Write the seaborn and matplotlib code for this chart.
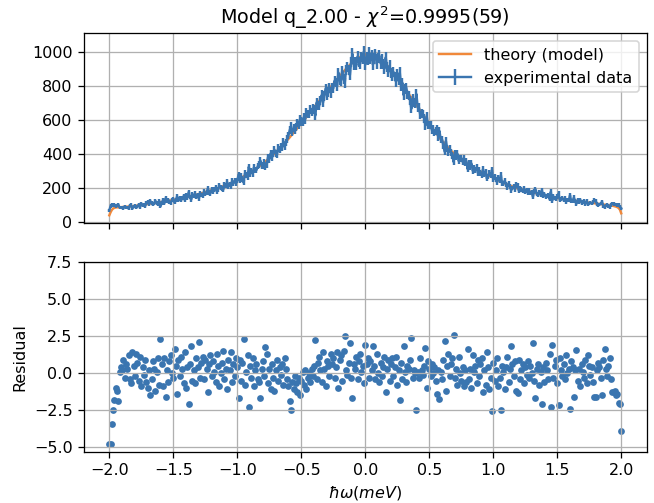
import numpy as np
import seaborn as sns
import matplotlib.pyplot as plt

# energy transfer grid (meV)
energy = [
    -2.00, -1.99, -1.98, -1.97, -1.96, -1.95, -1.94, -1.93, -1.92, -1.91, -1.90, -1.89, -1.88, -1.87, -1.86, -1.85, -1.84, -1.83, -1.82, -1.81,
    -1.80, -1.79, -1.78, -1.77, -1.76, -1.75, -1.74, -1.73, -1.72, -1.71, -1.70, -1.69, -1.68, -1.67, -1.66, -1.65, -1.64, -1.63, -1.62, -1.61,
    -1.60, -1.59, -1.58, -1.57, -1.56, -1.55, -1.54, -1.53, -1.52, -1.51, -1.50, -1.49, -1.48, -1.47, -1.46, -1.45, -1.44, -1.43, -1.42, -1.41,
    -1.40, -1.39, -1.38, -1.37, -1.36, -1.35, -1.34, -1.33, -1.32, -1.31, -1.30, -1.29, -1.28, -1.27, -1.26, -1.25, -1.24, -1.23, -1.22, -1.21,
    -1.20, -1.19, -1.18, -1.17, -1.16, -1.15, -1.14, -1.13, -1.12, -1.11, -1.10, -1.09, -1.08, -1.07, -1.06, -1.05, -1.04, -1.03, -1.02, -1.01,
    -1.00, -0.99, -0.98, -0.97, -0.96, -0.95, -0.94, -0.93, -0.92, -0.91, -0.90, -0.89, -0.88, -0.87, -0.86, -0.85, -0.84, -0.83, -0.82, -0.81,
    -0.80, -0.79, -0.78, -0.77, -0.76, -0.75, -0.74, -0.73, -0.72, -0.71, -0.70, -0.69, -0.68, -0.67, -0.66, -0.65, -0.64, -0.63, -0.62, -0.61,
    -0.60, -0.59, -0.58, -0.57, -0.56, -0.55, -0.54, -0.53, -0.52, -0.51, -0.50, -0.49, -0.48, -0.47, -0.46, -0.45, -0.44, -0.43, -0.42, -0.41,
    -0.40, -0.39, -0.38, -0.37, -0.36, -0.35, -0.34, -0.33, -0.32, -0.31, -0.30, -0.29, -0.28, -0.27, -0.26, -0.25, -0.24, -0.23, -0.22, -0.21,
    -0.20, -0.19, -0.18, -0.17, -0.16, -0.15, -0.14, -0.13, -0.12, -0.11, -0.10, -0.09, -0.08, -0.07, -0.06, -0.05, -0.04, -0.03, -0.02, -0.01,
    0.00, 0.01, 0.02, 0.03, 0.04, 0.05, 0.06, 0.07, 0.08, 0.09, 0.10, 0.11, 0.12, 0.13, 0.14, 0.15, 0.16, 0.17, 0.18, 0.19,
    0.20, 0.21, 0.22, 0.23, 0.24, 0.25, 0.26, 0.27, 0.28, 0.29, 0.30, 0.31, 0.32, 0.33, 0.34, 0.35, 0.36, 0.37, 0.38, 0.39,
    0.40, 0.41, 0.42, 0.43, 0.44, 0.45, 0.46, 0.47, 0.48, 0.49, 0.50, 0.51, 0.52, 0.53, 0.54, 0.55, 0.56, 0.57, 0.58, 0.59,
    0.60, 0.61, 0.62, 0.63, 0.64, 0.65, 0.66, 0.67, 0.68, 0.69, 0.70, 0.71, 0.72, 0.73, 0.74, 0.75, 0.76, 0.77, 0.78, 0.79,
    0.80, 0.81, 0.82, 0.83, 0.84, 0.85, 0.86, 0.87, 0.88, 0.89, 0.90, 0.91, 0.92, 0.93, 0.94, 0.95, 0.96, 0.97, 0.98, 0.99,
    1.00, 1.01, 1.02, 1.03, 1.04, 1.05, 1.06, 1.07, 1.08, 1.09, 1.10, 1.11, 1.12, 1.13, 1.14, 1.15, 1.16, 1.17, 1.18, 1.19,
    1.20, 1.21, 1.22, 1.23, 1.24, 1.25, 1.26, 1.27, 1.28, 1.29, 1.30, 1.31, 1.32, 1.33, 1.34, 1.35, 1.36, 1.37, 1.38, 1.39,
    1.40, 1.41, 1.42, 1.43, 1.44, 1.45, 1.46, 1.47, 1.48, 1.49, 1.50, 1.51, 1.52, 1.53, 1.54, 1.55, 1.56, 1.57, 1.58, 1.59,
    1.60, 1.61, 1.62, 1.63, 1.64, 1.65, 1.66, 1.67, 1.68, 1.69, 1.70, 1.71, 1.72, 1.73, 1.74, 1.75, 1.76, 1.77, 1.78, 1.79,
    1.80, 1.81, 1.82, 1.83, 1.84, 1.85, 1.86, 1.87, 1.88, 1.89, 1.90, 1.91, 1.92, 1.93, 1.94, 1.95, 1.96, 1.97, 1.98, 1.99,
    2.00,
]

# fitted model curve (counts)
theory = [
    40, 58, 72, 80, 84, 86, 87, 87, 88, 88, 89,
    90, 90, 91, 91, 92, 93, 93, 94, 95, 96,
    97, 98, 99, 100, 101, 102, 103, 104, 105, 107,
    108, 109, 110, 111, 112, 113, 114, 115, 116, 118,
    119, 120, 122, 123, 124, 126, 127, 128, 130, 132,
    133, 135, 136, 138, 139, 141, 143, 144, 146, 148,
    150, 151, 153, 155, 157, 158, 160, 162, 164, 166,
    168, 170, 172, 174, 177, 179, 181, 183, 186, 188,
    190, 193, 195, 198, 200, 203, 206, 209, 212, 215,
    218, 221, 224, 227, 230, 234, 237, 241, 245, 250,
    254, 258, 262, 266, 270, 274, 278, 283, 287, 292,
    297, 302, 307, 312, 317, 322, 328, 333, 339, 345,
    351, 357, 363, 369, 375, 382, 389, 396, 403, 410,
    418, 426, 434, 442, 450, 458, 466, 474, 482, 490,
    499, 508, 517, 526, 535, 544, 553, 562, 571, 580,
    590, 599, 609, 618, 628, 637, 647, 656, 666, 675,
    685, 694, 704, 713, 723, 732, 742, 751, 761, 770,
    779, 788, 797, 806, 815, 824, 833, 842, 851, 860,
    868, 877, 886, 895, 903, 911, 919, 926, 933, 940,
    946, 952, 957, 962, 967, 972, 976, 980, 983, 986,
    988, 989, 989, 988, 986, 983, 980, 976, 972, 967,
    962, 956, 950, 944, 937, 930, 922, 914, 906, 897,
    888, 879, 869, 859, 849, 839, 829, 819, 809, 798,
    787, 776, 765, 754, 743, 732, 721, 710, 699, 688,
    677, 666, 655, 644, 633, 622, 611, 600, 589, 578,
    567, 557, 547, 537, 527, 517, 507, 497, 488, 479,
    470, 461, 453, 445, 437, 429, 421, 414, 407, 400,
    393, 387, 381, 375, 369, 363, 357, 352, 347, 342,
    337, 332, 327, 323, 318, 314, 310, 306, 302, 298,
    294, 290, 286, 283, 279, 276, 272, 269, 266, 263,
    258, 254, 250, 246, 242, 238, 234, 231, 228, 225,
    222, 219, 216, 213, 210, 207, 204, 202, 199, 197,
    195, 193, 191, 189, 187, 185, 183, 181, 179, 177,
    175, 173, 171, 169, 167, 165, 164, 162, 160, 158,
    157, 155, 154, 152, 151, 149, 148, 146, 145, 143,
    142, 141, 139, 138, 137, 136, 134, 133, 132, 131,
    130, 128, 127, 126, 125, 124, 123, 122, 121, 120,
    119, 118, 117, 116, 115, 114, 113, 112, 111, 110,
    109, 108, 107, 106, 105, 104, 103, 102, 101, 100,
    99, 98, 97, 95, 93, 91, 88, 83, 73, 52,
]

# normalised residuals (model - data) / error
residual = [
    -4.8, -4.75, -3.4, -2.5, -1.8, -1.0, -1.2, -1.9, 0.1, 0.4, 0.2, 0.9, -0.3, 0.6, 0.3, 1.2, -0.4, -0.7, 1.45, 0.5,
    -0.2, 1.3, 0.7, -0.5, 1.1, -0.9, 0.4, -0.1, 0.9, -0.6, -1.0, 0.2, -1.5, -0.4, 0.8, 0.3, -1.2, 0.1, 1.0, -0.8,
    2.3, 0.6, -0.9, 1.0, -1.6, 0.2, -0.6, 0.8, 1.2, 0.0, -0.3, 1.6, 0.5, -1.4, 0.9, -0.2, 1.1, 0.3, -0.7, 1.4,
    -1.0, 0.4, -2.1, 0.6, 1.8, -0.5, 0.2, -0.7, 1.0, 0.4, 2.1, -0.3, 0.7, 1.1, -0.4, 0.9, 0.3, -1.3, 0.6, 1.2,
    -0.2, 0.8, 0.1, -0.6, 1.3, 0.5, -0.9, 0.0, 0.7, 1.5, -0.4, 0.3, -1.1, 0.9, 0.2, 1.4, -0.6, 0.6, -0.2, 1.0,
    0.4, -1.65, 0.9, -0.5, 0.7, 2.3, -0.8, 0.1, 1.2, -2.3, 0.5, -0.3, 1.0, -0.9, 0.2, 0.6, -0.4, -0.6, -1.65, 0.3,
    0.8, -0.2, 1.75, 1.3, -0.7, 0.3, -1.1, 0.6, -0.3, -1.2, 0.2, 0.9, -0.5, 0.4, -0.1, 0.6, -0.8, 1.0, 0.3, -0.4,
    -0.9, -1.9, -2.5, -0.6, -1.1, -0.2, -0.7, -1.3, -0.3, -1.5, -0.5, 0.1, -0.8, 0.2, -1.1, -0.3, 0.0, -0.6, 0.3, -0.2,
    0.5, 2.2, -0.4, 0.7, 1.1, 0.2, -0.6, 1.4, 0.3, -0.9, 0.8, 0.5, -0.2, 1.3, 0.6, 1.0, -0.3, 0.4, 1.4, -1.0,
    0.9, 1.2, -0.5, 1.5, 2.5, 0.2, -0.1, 0.7, 2.0, -0.3, -1.65, 0.6, 0.3, 1.1, -0.4, 0.8, 1.3, 0.1, 0.5, -0.7,
    1.9, 0.6, 1.0, -0.3, 0.8, 0.2, 1.8, 0.5, -0.4, 1.3, 0.0, -0.6, 0.7, -0.2, 0.4, 1.1, -1.3, 0.3, 0.9, -0.5,
    0.6, 1.0, -0.2, 0.4, 1.1, -0.8, 0.2, -1.8, 0.7, -0.4, 1.8, 0.1, -0.6, 0.5, 0.3, 0.9, 2.4, -0.3, 0.2, 0.0,
    -2.5, 0.1, -0.3, 1.0, 0.2, -0.1, 0.5, 1.7, -1.0, 0.8, 0.3, -0.2, 0.6, 0.0, 0.4, -0.5, -1.4, 0.2, -1.75, 0.1,
    -0.4, 0.9, 2.15, -1.2, 0.5, 1.3, -0.2, 0.6, 1.0, 2.6, -0.3, 0.3, -0.8, 1.1, 0.0, -0.5, 0.4, -0.9, 0.2, -0.6,
    1.6, -0.4, 0.3, -1.0, 1.2, 0.1, 0.5, -0.7, 0.9, -0.2, 0.6, 1.0, -1.3, 0.2, -0.8, 1.4, 0.4, -1.1, -0.3, -2.55,
    0.7, -0.5, 0.2, 1.0, -0.9, -0.3, -2.5, 0.5, 0.1, -1.1, 0.4, 1.1, -0.6, 0.3, 1.8, 0.6, -0.2, 0.8, -1.2, -1.36,
    0.9, -0.4, 0.2, 0.6, -0.7, 0.4, -0.1, 0.8, -0.3, 0.5, 0.0, 2.0, -0.5, -1.7, 0.3, 0.6, -0.8, 0.1, -2.05, 0.4,
    -0.6, 0.7, 0.2, -0.4, 1.3, -2.27, 1.9, -0.3, 0.5, 0.9, -0.7, -2.16, 1.0, 0.2, -0.2, 0.6, -0.4, 1.2, 0.0, 0.3,
    -2.4, 0.8, 0.4, -1.6, 0.2, 1.54, -0.5, 0.3, -0.9, 0.6, 0.1, -0.3, 0.9, -0.7, 1.2, 0.5, -0.1, 0.4, -0.6, -1.6,
    -1.6, 0.2, 0.7, 0.4, -0.3, -1.5, 0.9, 1.6, 0.3, -0.2, 0.5, 1.0, -0.4, -1.25, -1.3, -1.2, -1.5, -1.4, -2.0, -2.1,
    -3.9,
]

count_ticks = [0, 200, 400, 600, 800, 1000]
residual_ticks = [-5.0, -2.5, 0.0, 2.5, 5.0, 7.5]
energy_ticks = [-2.0, -1.5, -1.0, -0.5, 0.0, 0.5, 1.0, 1.5, 2.0]

energy = np.array(energy)
theory = np.array(theory, dtype=float)
residual = np.array(residual)
assert len(energy) == len(theory) == len(residual)

# measured counts and poisson errors, back from model and residuals
err_model = np.sqrt(theory)
counts = theory - residual * err_model
err = np.sqrt(counts)

blue = '#3a75b0'
orange = '#f0883a'

# figure drawn at dpi=115 -> 654x503 px
fig, (ax1, ax2) = plt.subplots(nrows=2, ncols=1, sharex=True, figsize=(654 / 115, 503 / 115), dpi=115)
fig.subplots_adjust(left=0.128, right=0.989, top=0.934, bottom=0.102, hspace=0.205)

# top: data and model
sns.lineplot(x=energy, y=theory, ax=ax1, color=orange, label='theory (model)', sort=False)
ax1.errorbar(energy, counts, yerr=err, color=blue, label='experimental data')
ax1.set_ylim(-5, 1112)
ax1.set_yticks(count_ticks)
ax1.legend(loc='upper right')
ax1.grid(True)
ax1.set_title(r'Model q_2.00 - $\chi^2$=0.9995(59)')

# bottom: residuals
sns.scatterplot(x=energy, y=residual, ax=ax2, color=blue, s=18, linewidth=0)
ax2.set_ylim(-5.3, 7.5)
ax2.set_yticks(residual_ticks)
ax2.set_xticks(energy_ticks)
ax2.grid(True)
ax2.set_ylabel('Residual')
ax2.set_xlabel(r'$\hbar\omega(meV)$')

fig.savefig('out.png', dpi=115)
